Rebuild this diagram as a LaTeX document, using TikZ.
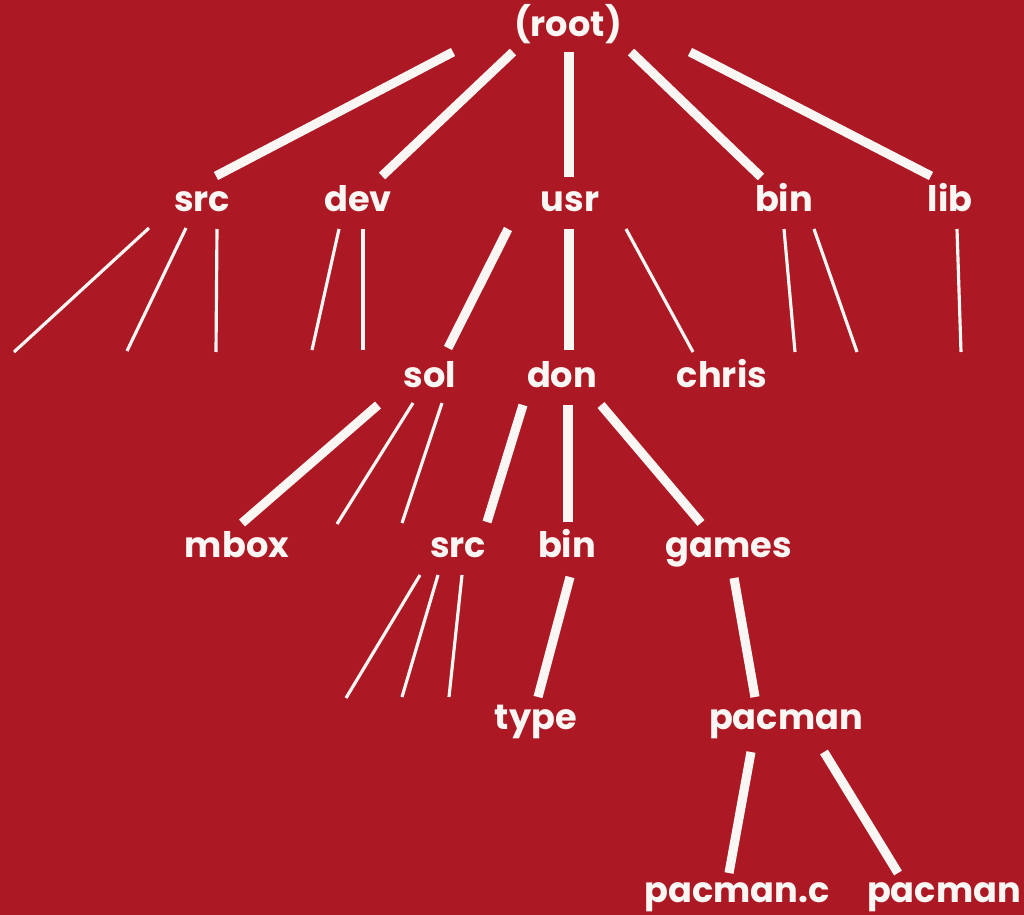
\documentclass[tikz,border=0pt]{standalone}
\usepackage{fontspec}
\setmainfont{Poppins}
\usetikzlibrary{calc}
\definecolor{cover}{RGB}{172,24,36}
\definecolor{chalk}{RGB}{250,246,244}

\begin{document}
\begin{tikzpicture}[x=0.01cm, y=-0.01cm,
    dirname/.style={anchor=base, inner sep=0pt, text=chalk,
        font=\bfseries\fontsize{10}{12}\selectfont},
    branch/.style={draw=chalk, line width=2.6pt},
    twig/.style={draw=chalk, line width=0.9pt}]
    \fill[cover] (0,0) rectangle (1024,915);
    \useasboundingbox (0,0) rectangle (1024,915);

    % directory names
    \node[dirname] (root)    at (568,37)  {(root)};
    \node[dirname] (src)     at (202,211) {src};
    \node[dirname] (dev)     at (358,211) {dev};
    \node[dirname] (usr)     at (570,211) {usr};
    \node[dirname] (bin)     at (784,211) {bin};
    \node[dirname] (lib)     at (950,211) {lib};
    \node[dirname] (sol)     at (430,387) {sol};
    \node[dirname] (don)     at (562,387) {don};
    \node[dirname] (chris)   at (722,387) {chris};
    \node[dirname] (mbox)    at (237,557) {mbox};
    \node[dirname] (donsrc)  at (458,557) {src};
    \node[dirname] (donbin)  at (567,557) {bin};
    \node[dirname] (games)   at (729,557) {games};
    \node[dirname] (type)    at (536,729) {type};
    \node[dirname] (pacman)  at (786,729) {pacman};
    \node[dirname] (pacmanc) at (737,902) {pacman.c};
    \node[dirname] (pacexe)  at (944,902) {pacman};

    % free ends of the unnamed leaves
    \coordinate (src-a) at (14,352);
    \coordinate (src-b) at (127,351);
    \coordinate (src-c) at (216,352);
    \coordinate (dev-a) at (312,350);
    \coordinate (dev-b) at (363,350);
    \coordinate (bin-a) at (795,352);
    \coordinate (bin-b) at (857,352);
    \coordinate (lib-a) at (961,352);
    \coordinate (sol-a) at (337,524);
    \coordinate (sol-b) at (402,523);
    \coordinate (donsrc-a) at (346,698);
    \coordinate (donsrc-b) at (402,697);
    \coordinate (donsrc-c) at (449,697);

    % root level
    \draw[branch] ($(root.base)+(-115,15)$) -- ($(src.base)+(14,-35)$);
    \draw[branch] ($(root.base)+(-55,15)$) -- ($(dev.base)+(24,-35)$);
    \draw[branch] ($(root.base)+(1,15)$) -- ($(usr.base)+(-1,-34)$);
    \draw[branch] ($(root.base)+(63,15)$) -- ($(bin.base)+(-23,-34)$);
    \draw[branch] ($(root.base)+(122,15)$) -- ($(lib.base)+(-19,-35)$);

    % second level
    \draw[twig] ($(src.base)+(-53,17)$) -- (src-a);
    \draw[twig] ($(src.base)+(-16,17)$) -- (src-b);
    \draw[twig] ($(src.base)+(15,18)$) -- (src-c);
    \draw[twig] ($(dev.base)+(-19,18)$) -- (dev-a);
    \draw[twig] ($(dev.base)+(5,18)$) -- (dev-b);
    \draw[branch] ($(usr.base)+(-62,18)$) -- ($(sol.base)+(18,-39)$);
    \draw[branch] ($(usr.base)+(-1,18)$) -- ($(don.base)+(7,-37)$);
    \draw[twig] ($(usr.base)+(56,18)$) -- ($(chris.base)+(-29,-35)$);
    \draw[twig] ($(bin.base)+(0,18)$) -- (bin-a);
    \draw[twig] ($(bin.base)+(30,18)$) -- (bin-b);
    \draw[twig] ($(lib.base)+(7,18)$) -- (lib-a);

    % under sol and don
    \draw[branch] ($(sol.base)+(-52,18)$) -- ($(mbox.base)+(5,-34)$);
    \draw[twig] ($(sol.base)+(-17,16)$) -- (sol-a);
    \draw[twig] ($(sol.base)+(12,16)$) -- (sol-b);
    \draw[branch] ($(don.base)+(-39,18)$) -- ($(donsrc.base)+(29,-35)$);
    \draw[branch] ($(don.base)+(6,18)$) -- ($(donbin.base)+(1,-35)$);
    \draw[branch] ($(don.base)+(39,18)$) -- ($(games.base)+(-28,-34)$);

    % lower levels
    \draw[twig] ($(donsrc.base)+(-38,18)$) -- (donsrc-a);
    \draw[twig] ($(donsrc.base)+(-20,18)$) -- (donsrc-b);
    \draw[twig] ($(donsrc.base)+(4,18)$) -- (donsrc-c);
    \draw[branch] ($(donbin.base)+(3,20)$) -- ($(type.base)+(2,-32)$);
    \draw[branch] ($(games.base)+(5,21)$) -- ($(pacman.base)+(-31,-32)$);
    \draw[branch] ($(pacman.base)+(-35,23)$) -- ($(pacmanc.base)+(-8,-29)$);
    \draw[branch] ($(pacman.base)+(38,23)$) -- ($(pacexe.base)+(-46,-29)$);
\end{tikzpicture}
\end{document}
